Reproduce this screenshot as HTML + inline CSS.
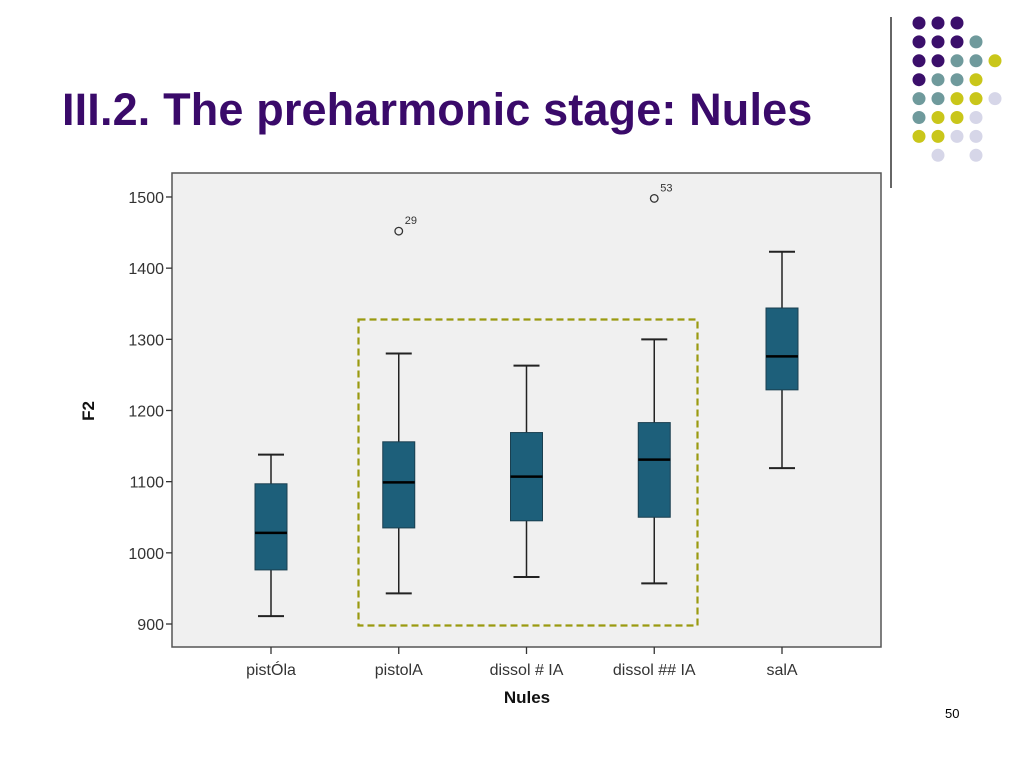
<!DOCTYPE html>
<html><head><meta charset="utf-8"><style>
body{margin:0;width:1024px;height:768px;background:#fff;overflow:hidden;font-family:"Liberation Sans",sans-serif;position:relative}
</style></head><body>
<div style="position:absolute;left:62px;top:84px;font-size:45px;font-weight:bold;color:#3a0a6a;letter-spacing:0.15px">III.2. The preharmonic stage: Nules</div>
<div style="position:absolute;left:945px;top:706px;font-size:13px;color:#000">50</div>
<svg id="deco" width="1024" height="200" style="position:absolute;left:0;top:0"></svg>
<svg id="chart" width="1024" height="768" style="position:absolute;left:0;top:0"></svg>
<script>
const categories=["pistÓla","pistolA","dissol # IA","dissol ## IA","salA"];
const whiskerLow=[911,943,966,957,1119];
const q1=[976,1035,1045,1050,1229];
const medians=[1028,1099,1107,1131,1276];
const q3=[1097,1156,1169,1183,1344];
const whiskerHigh=[1138,1280,1263,1300,1423];
const outlierCat=[1,3];
const outlierVal=[1452,1498];
const outlierLabel=["29","53"];
const yTicks=[900,1000,1100,1200,1300,1400,1500];

const NS="http://www.w3.org/2000/svg";
function mk(p,t,a){const e=document.createElementNS(NS,t);for(const k in a)e.setAttribute(k,a[k]);p.appendChild(e);return e;}
const d=document.getElementById('deco');
const ln=mk(d,'line',{x1:891,y1:17,x2:891,y2:188,stroke:'#333','stroke-width':1.5});

const P='#3b0f6b',T='#6f9a9c',Y='#c9c61a',L='#d6d6e8';
const grid=[[P,P,P,0,0],[P,P,P,T,0],[P,P,T,T,Y],[P,T,T,Y,0],[T,T,Y,Y,L],[T,Y,Y,L,0],[Y,Y,L,L,0],[0,L,0,L,0]];
grid.forEach((r,i)=>r.forEach((c,j)=>{if(c){const e=mk(d,'circle',{cx:919+j*19,cy:23+i*18.9,r:6.5,fill:c});}}));

const s=document.getElementById('chart');
const L0=172,R0=881,T0=173,B0=647;
const y=v=>624-(v-900)*0.7117;
const x=i=>271+i*127.75;
const bg=mk(s,'rect',{x:L0,y:T0,width:R0-L0,height:B0-T0,fill:'#f0f0f0',stroke:'#555','stroke-width':1.5});

yTicks.forEach(v=>{
 const t=mk(s,'line',{x1:L0-6,x2:L0,y1:y(v),y2:y(v),stroke:'#333','stroke-width':1.3});
 
 const tx=mk(s,'text',{x:L0-8,y:y(v)+6,'text-anchor':'end','font-size':16,fill:'#333'});tx.textContent=v;
 
});
const dr=mk(s,'rect',{x:358.5,y:319.5,width:339,height:306,fill:'none',stroke:'#9a9a10','stroke-width':2.2,'stroke-dasharray':'7,4'});

categories.forEach((c,i)=>{
 const cx=x(i),w=32;
 const g=mk(s,'g',{});
 mk(g,'line',{x1:cx,x2:cx,y1:y(whiskerLow[i]),y2:y(whiskerHigh[i]),stroke:'#222','stroke-width':1.5});
 mk(g,'line',{x1:cx-13,x2:cx+13,y1:y(whiskerLow[i]),y2:y(whiskerLow[i]),stroke:'#222','stroke-width':2});
 mk(g,'line',{x1:cx-13,x2:cx+13,y1:y(whiskerHigh[i]),y2:y(whiskerHigh[i]),stroke:'#222','stroke-width':2});
 mk(g,'rect',{x:cx-w/2,y:y(q3[i]),width:w,height:y(q1[i])-y(q3[i]),fill:'#1d5f7a',stroke:'#1a3f50','stroke-width':1});
 mk(g,'line',{x1:cx-w/2,x2:cx+w/2,y1:y(medians[i]),y2:y(medians[i]),stroke:'#000','stroke-width':2.5});
 const t=mk(s,'line',{x1:cx,x2:cx,y1:B0,y2:B0+7,stroke:'#333','stroke-width':1.3});
 
 const tx=mk(s,'text',{x:cx,y:675,'text-anchor':'middle','font-size':16,fill:'#333'});tx.textContent=c;
 
});
outlierCat.forEach((ci,k)=>{
 const o=mk(s,'circle',{cx:x(ci),cy:y(outlierVal[k]),r:3.8,fill:'none',stroke:'#333','stroke-width':1.3});
 
 const t=mk(s,'text',{x:x(ci)+6,y:y(outlierVal[k])-7,'font-size':11,fill:'#333'});t.textContent=outlierLabel[k];
 
});
const xt=mk(s,'text',{x:527,y:703,'text-anchor':'middle','font-size':17,'font-weight':'bold',fill:'#111'});xt.textContent='Nules';

const yt=mk(s,'text',{x:0,y:0,'text-anchor':'middle','font-size':17,'font-weight':'bold',fill:'#111',transform:'translate(94,411) rotate(-90)'});yt.textContent='F2';

</script>
</body></html>
